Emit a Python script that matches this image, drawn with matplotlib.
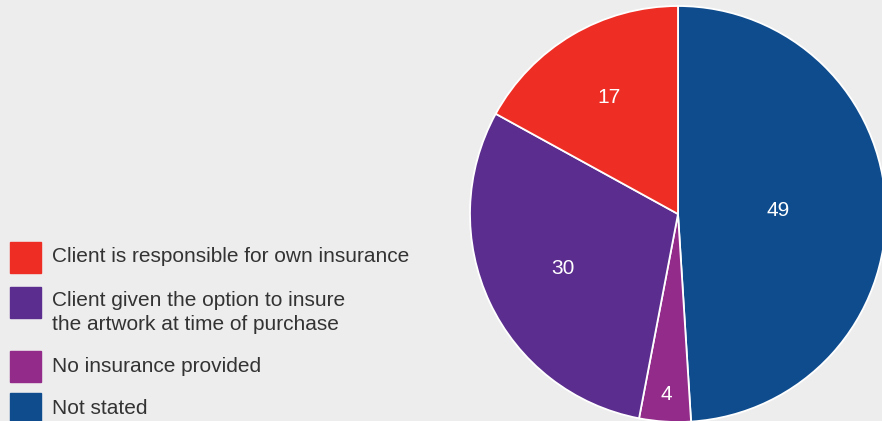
import numpy as np
import matplotlib.pyplot as plt
from matplotlib.patches import Rectangle

# data, clockwise from 12 o'clock
labels = ["Not stated", "No insurance provided",
          "Client given the option to insure\nthe artwork at time of purchase",
          "Client is responsible for own insurance"]
values = [49, 4, 30, 17]
colors = ["#0e4c8e", "#922b8a", "#5b2d8e", "#ee2e24"]
label_radius = [0.48, 0.87, 0.61, 0.65]

legend_order = [3, 2, 1, 0]
legend_box_y = [242, 287, 351, 393]
legend_text_y = [257, 300, 366, 408]

bg = "#ededed"
W, H = 882, 421

plt.rcParams['font.family'] = ['Liberation Sans', 'DejaVu Sans']

fig = plt.figure(figsize=(W / 100, H / 100), dpi=100, facecolor=bg)

# pie, centre (678, 214) px, radius 208 px
cx, cy, r = 678, 214, 208
ax = fig.add_axes([(cx - r) / W, (H - cy - r) / H, 2 * r / W, 2 * r / H])
ax.set_facecolor(bg)
wedges, _ = ax.pie(values, colors=colors, startangle=90, counterclock=False,
                   radius=1, wedgeprops=dict(edgecolor="white", linewidth=1.3))
ax.set_xlim(-1, 1)
ax.set_ylim(-1, 1)
ax.set_aspect("equal")
ax.axis("off")

for w, v, d in zip(wedges, values, label_radius):
    ang = np.deg2rad((w.theta1 + w.theta2) / 2)
    ax.text(d * np.cos(ang), d * np.sin(ang), str(v), color="white",
            fontsize=15, ha="center", va="center")

# legend drawn by hand
for i, by, ty in zip(legend_order, legend_box_y, legend_text_y):
    fig.patches.append(Rectangle((10 / W, 1 - (by + 31) / H), 31 / W, 31 / H,
                                 transform=fig.transFigure, color=colors[i]))
    n = labels[i].count("\n")
    fig.text(52 / W, 1 - (ty + n * 12.5) / H, labels[i], fontsize=15,
             color="#333333", ha="left", va="center", linespacing=1.37)

fig.savefig("out.png", dpi=100, facecolor=bg)
